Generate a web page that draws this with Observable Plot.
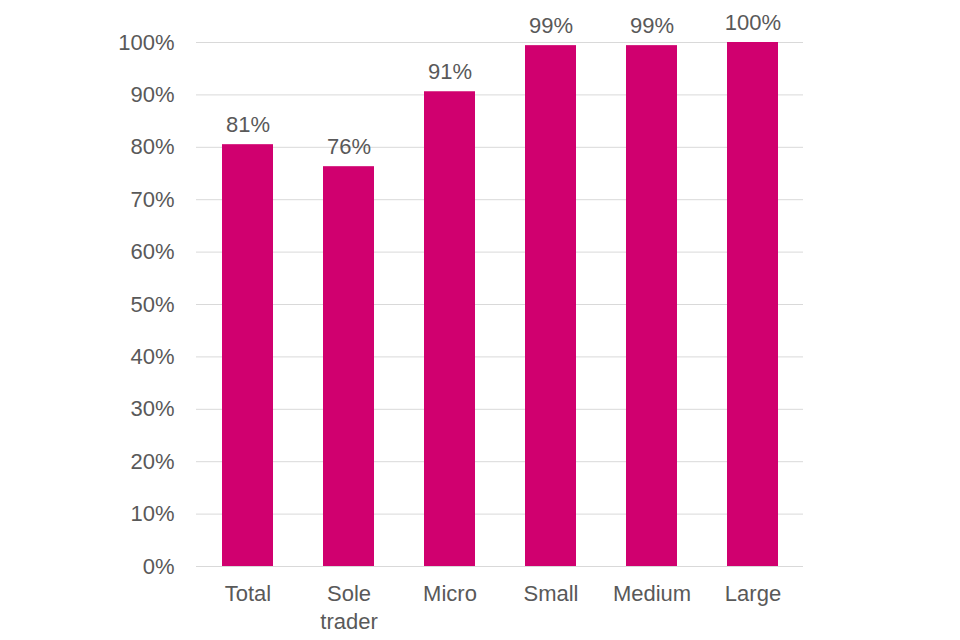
<!DOCTYPE html>
<html>
<head>
<meta charset="utf-8">
<script src="https://cdn.jsdelivr.net/npm/d3@7"></script>
<script src="https://cdn.jsdelivr.net/npm/@observablehq/plot@0.6"></script>
<style>
  html, body { margin: 0; padding: 0; background: #fff; }
  #chart { width: 960px; height: 640px; }
</style>
</head>
<body>
<div id="chart"></div>
<script>
const categories = ["Total", "Sole\ntrader", "Micro", "Small", "Medium", "Large"];
const values = [80.5, 76.3, 90.6, 99.4, 99.4, 100];
const labels = ["81%", "76%", "91%", "99%", "99%", "100%"];
const yTicks = [0, 10, 20, 30, 40, 50, 60, 70, 80, 90, 100];

const data = categories.map((c, i) => ({category: c, value: values[i], label: labels[i]}));

const textColor = "#595959";
const chart = Plot.plot({
  width: 960,
  height: 640,
  marginLeft: 196,
  marginRight: 157,
  marginTop: 42,
  marginBottom: 74,
  style: {fontFamily: "'Liberation Sans', Arial, sans-serif", fontSize: "22px", color: textColor, background: "#fff"},
  x: {domain: categories, paddingInner: 0.5, paddingOuter: 0.25, label: null},
  y: {domain: [0, 100], label: null},
  marks: [
    Plot.gridY(yTicks, {stroke: "#d9d9d9", strokeOpacity: 1, strokeWidth: 1}),
    Plot.barY(data, {x: "category", y: "value", fill: "#D0006F"}),
    Plot.text(data, {x: "category", y: "value", text: "label", lineAnchor: "bottom", dy: -13, fill: textColor, fontSize: 22}),
    Plot.axisY({ticks: yTicks, tickFormat: d => d + "%", tickSize: 0, tickPadding: 22, fill: textColor, fontSize: 22, label: null}),
    Plot.axisX({tickSize: 0, tickPadding: 15, lineHeight: 1.27, fill: textColor, fontSize: 22, label: null})
  ]
});
document.getElementById("chart").appendChild(chart);
</script>
</body>
</html>
